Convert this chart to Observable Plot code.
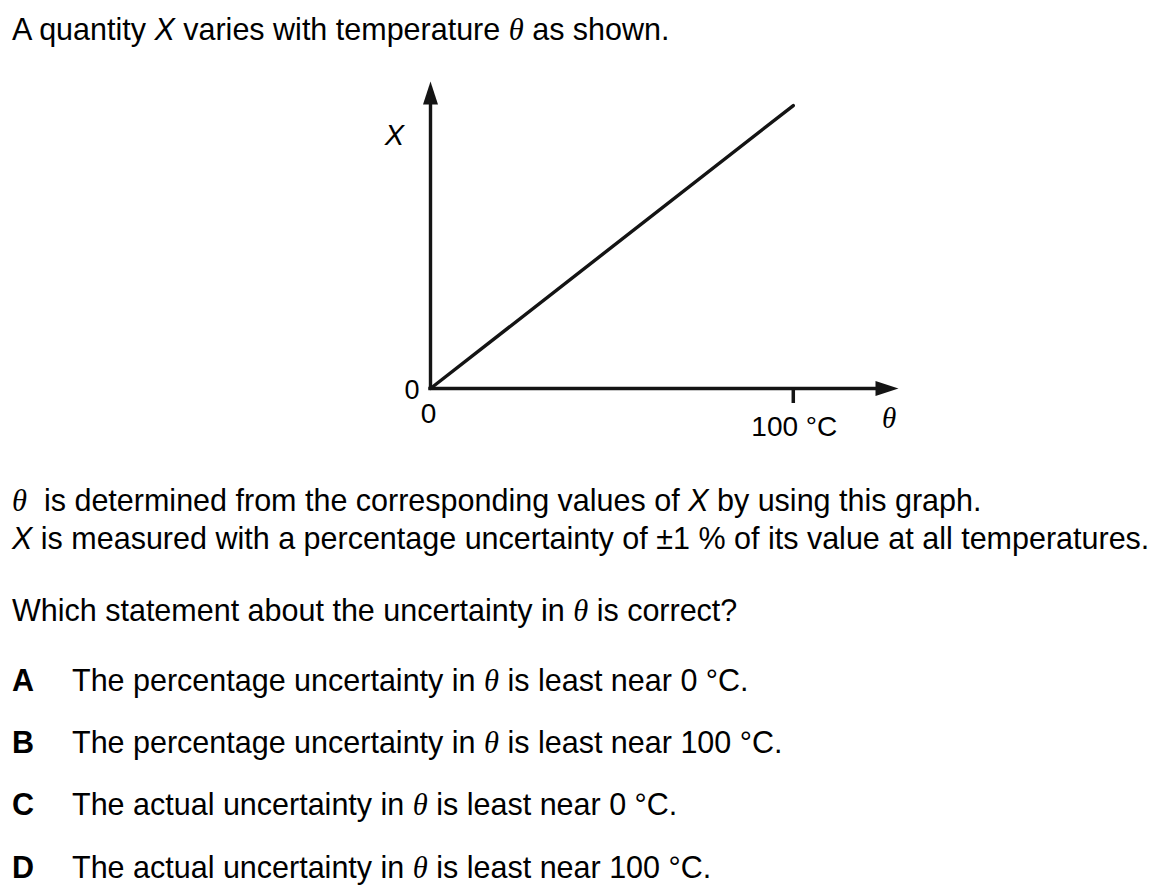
<!DOCTYPE html>
<html><head><meta charset="utf-8">
<script src="https://cdn.jsdelivr.net/npm/d3@7"></script>
<script src="https://cdn.jsdelivr.net/npm/@observablehq/plot@0.6"></script>
<style>
body{margin:0;background:#fff;width:1155px;height:892px;overflow:hidden;position:relative;font-family:"Liberation Sans",Arial,sans-serif;color:#000}
.t{position:absolute;left:12px;font-size:30.5px;line-height:30px;white-space:nowrap}
.it{font-style:italic}
.th{font-family:"Liberation Serif",serif;font-style:italic}
.k{position:absolute;left:0;font-weight:bold}
.v{position:absolute;left:60px}
#chart{position:absolute;left:0;top:60px}
</style></head><body>
<div class="t" style="top:14px">A quantity <span class="it">X</span> varies with temperature <span class="th">θ</span> as shown.</div>
<div id="chart"></div>
<div class="t" style="top:485px"><span class="th">θ</span>&nbsp; is determined from the corresponding values of <span class="it">X</span> by using this graph.</div>
<div class="t" style="top:523px"><span class="it">X</span> is measured with a percentage uncertainty of ±1 % of its value at all temperatures.</div>
<div class="t" style="top:595px">Which statement about the uncertainty in <span class="th">θ</span> is correct?</div>
<div id="opts"></div>
<script>
// ---- data ----
const theta = [0, 100];            // °C
const X = [0, 100];                // X proportional to θ (arbitrary units)
const thetaAxisMax = 129;          // extent of θ axis (arrow tip)
const XAxisMax = 108.5;            // extent of X axis (arrow tip)
const thetaTicks = [0, 100];
const thetaTickLabels = ["0", "100 °C"];
const XTicks = [0];
const XTickLabels = ["0"];
const xName = "θ";
const yName = "X";
const optionLetters = ["A", "B", "C", "D"];
const optionTexts = [
  'The percentage uncertainty in <span class="th">θ</span> is least near 0 °C.',
  'The percentage uncertainty in <span class="th">θ</span> is least near 100 °C.',
  'The actual uncertainty in <span class="th">θ</span> is least near 0 °C.',
  'The actual uncertainty in <span class="th">θ</span> is least near 100 °C.'
];

// options
const optTops = [665, 727, 789, 852];
const opts = document.getElementById("opts");
optionLetters.forEach((L, i) => {
  const d = document.createElement("div");
  d.className = "t";
  d.style.top = optTops[i] + "px";
  d.innerHTML = `<span class="k">${L}</span><span class="v">${optionTexts[i]}</span>`;
  opts.appendChild(d);
});

const points = theta.map((t, i) => ({theta: t, X: X[i]}));
const ink = "#141414";
const arrowHead = {draw(ctx) { ctx.moveTo(0, 0); ctx.lineTo(7.5, 23); ctx.lineTo(-7.5, 23); ctx.closePath(); }};
const sans = "Liberation Sans, Arial, sans-serif";

const chart = Plot.plot({
  width: 1155, height: 400,
  marginLeft: 430, marginRight: 257, marginTop: 21, marginBottom: 72,
  x: {domain: [0, thetaAxisMax], axis: null},
  y: {domain: [0, XAxisMax], axis: null},
  style: {fontFamily: sans, background: "transparent", overflow: "visible", color: "#000"},
  marks: [
    Plot.ruleY([0], {x1: 0, x2: thetaAxisMax, insetRight: 14, stroke: ink, strokeWidth: 3.4, strokeLinecap: "square"}),
    Plot.ruleX([0], {y1: XAxisMax, y2: 0, insetTop: 14, stroke: ink, strokeWidth: 3.4, strokeLinecap: "square"}),
    Plot.dot([yName], {x: 0, y: XAxisMax, symbol: arrowHead, fill: ink, stroke: null}),
    Plot.dot([xName], {x: thetaAxisMax, y: 0, symbol: arrowHead, rotate: 90, fill: ink, stroke: null}),
    Plot.ruleX(thetaTicks.filter(t => t !== 0), {x: d => d, y1: 0, y2: 0, insetBottom: -15, stroke: ink, strokeWidth: 3.5}),
    Plot.line(points, {x: "theta", y: "X", stroke: ink, strokeWidth: 3.4}),
    Plot.text([yName], {x: 0, y: XAxisMax, text: d => d, dx: -36, dy: 63, lineAnchor: "bottom", fontStyle: "italic", fontSize: 29, fill: "#000"}),
    Plot.text([xName], {x: thetaAxisMax, y: 0, text: d => d, dx: -9.5, dy: 39, lineAnchor: "bottom", fontFamily: "Liberation Serif, serif", fontStyle: "italic", fontSize: 29, fill: "#000"}),
    Plot.text(XTicks, {x: 0, y: d => d, text: (d, i) => XTickLabels[i], dx: -18.5, dy: 10, lineAnchor: "bottom", fontSize: 27, fill: "#000"}),
    Plot.text([0], {x: i => thetaTicks[i], y: 0, text: i => thetaTickLabels[i], dx: -2, dy: 34, lineAnchor: "bottom", fontSize: 28, fill: "#000"}),
    Plot.text([1], {x: i => thetaTicks[i], y: 0, text: i => thetaTickLabels[i], dx: 1, dy: 47, lineAnchor: "bottom", fontSize: 28, fill: "#000"})
  ]
});
document.getElementById("chart").appendChild(chart);
</script>
</body></html>
